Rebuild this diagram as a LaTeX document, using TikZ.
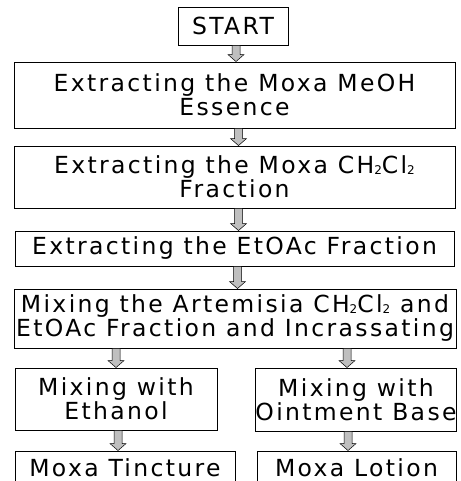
\documentclass[tikz,border=0pt]{standalone}
\usepackage{fontspec}
\setmainfont{DejaVu Sans}[LetterSpace=10]
\usetikzlibrary{calc}
\newcommand\sbs[1]{\raisebox{-1pt}{\fontsize{12}{12}\selectfont #1}}
\tikzset{
  box/.style={draw=black, line width=0.9pt, inner xsep=0pt, inner ysep=0pt, align=center,
    font=\fontsize{23.5}{24}\selectfont},
  blockarr/.style={draw=black, line width=0.5pt, fill=gray!50,
    to path={let \p1=(\tikztostart), \p2=(\tikztotarget) in
      (\x1-4pt,\y1) -- (\x1+4pt,\y1) -- (\x1+4pt,\y2+7pt) -- (\x1+8pt,\y2+7pt) --
      (\x1,\y2) -- (\x1-8pt,\y2+7pt) -- (\x1-4pt,\y2+7pt) -- cycle}}
}
\begin{document}
\begin{tikzpicture}[x=1pt,y=-1pt]
\useasboundingbox (0,0) rectangle (460,481);
\clip (0,0) rectangle (460,481);
\fill[white] (0,0) rectangle (460,481);
\node[box, minimum width=110pt, minimum height=38pt] (start) at (233,26) {START};
\node[box, minimum width=441pt, minimum height=66pt] (b2) at (234.5,95) {Extracting the Moxa MeOH\\Essence};
\node[box, minimum width=441pt, minimum height=62pt] (b3) at (234.5,177) {Extracting the Moxa CH\sbs{2}Cl\sbs{2}\\Fraction};
\node[box, minimum width=439pt, minimum height=35pt] (b4) at (234.5,248.5) {Extracting the EtOAc Fraction};
\node[box, minimum width=442pt, minimum height=59pt] (b5) at (235,318.5) {Mixing the Artemisia CH\sbs{2}Cl\sbs{2} and\\EtOAc Fraction and Incrassating};
\node[box, minimum width=202pt, minimum height=62pt] (b6) at (116,399) {Mixing with\\Ethanol};
\node[box, minimum width=200pt, minimum height=63pt] (b7) at (356,399.5) {Mixing with\\Ointment Base};
\node[box, minimum width=220pt, minimum height=34pt] (b8) at (125,468) {Moxa Tincture};
\node[box, minimum width=199pt, minimum height=34pt] (b9) at (356.5,468) {Moxa Lotion};
\draw[blockarr] ([xshift=3pt]start.south) to (b2.north);
\draw[blockarr] ([xshift=4pt]b2.south) to (b3.north);
\draw[blockarr] ([xshift=4pt]b3.south) to (b4.north);
\draw[blockarr] ([xshift=3pt]b4.south) to (b5.north);
\draw[blockarr] (b5.south -| b6.north) to (b6.north);
\draw[blockarr] ([xshift=-9pt]b5.south -| b7.north) to (b7.north);
\draw[blockarr] ([xshift=-7pt]b6.south -| b8.north) to (b8.north);
\draw[blockarr] ([xshift=-8pt]b7.south) to (b9.north);
\end{tikzpicture}
\end{document}
